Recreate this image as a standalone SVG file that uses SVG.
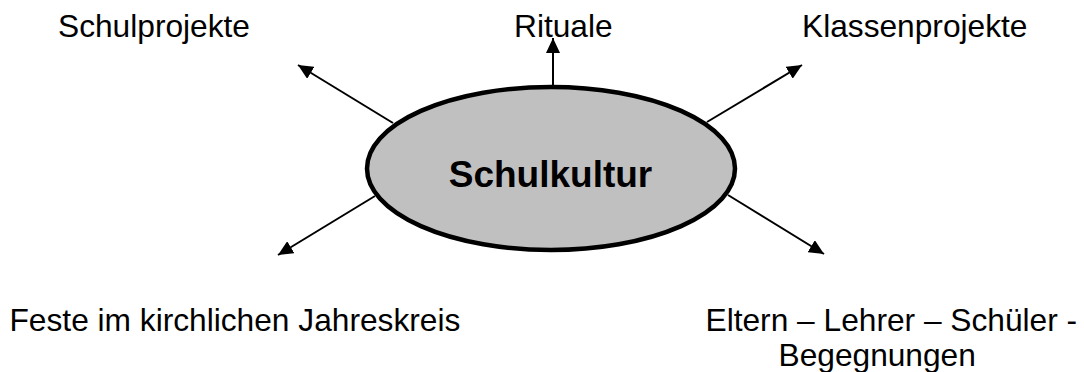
<svg xmlns="http://www.w3.org/2000/svg" width="1084" height="372" viewBox="0 0 1084 372">
<style>
.lbl{font-family:"Liberation Sans",Arial,sans-serif;font-size:31.7px;fill:#000}
.main{font-family:"Liberation Sans",Arial,sans-serif;font-size:37px;font-weight:bold;fill:#000}
.con{stroke:#000;stroke-width:2;fill:none;marker-end:url(#ah)}
</style>
<defs>
<marker id="ah" markerUnits="userSpaceOnUse" markerWidth="16" markerHeight="14" refX="15" refY="7" orient="auto">
<path d="M0,0 L15,7 L0,14 z" fill="#000"/>
</marker>
</defs>
<rect width="1084" height="372" fill="#fff"/>
<g id="connectors">
<line class="con" x1="553" y1="85" x2="553" y2="38"/>
<line class="con" x1="393" y1="123" x2="298" y2="65"/>
<line class="con" x1="707" y1="122" x2="802" y2="65"/>
<line class="con" x1="375" y1="196" x2="278" y2="255"/>
<line class="con" x1="728" y1="195" x2="824" y2="254"/>
</g>
<g id="schulkultur">
<ellipse cx="551" cy="168.5" rx="184" ry="81.5" fill="#c0c0c0" stroke="#000" stroke-width="4.5"/>
<text class="main" x="550.5" y="187" text-anchor="middle">Schulkultur</text>
</g>
<g id="schulprojekte"><text class="lbl" x="58" y="37">Schulprojekte</text></g>
<g id="rituale"><text class="lbl" x="514" y="37">Rituale</text></g>
<g id="klassenprojekte"><text class="lbl" x="802" y="37">Klassenprojekte</text></g>
<g id="feste"><text class="lbl" x="9.5" y="331">Feste im kirchlichen Jahreskreis</text></g>
<g id="begegnungen"><text class="lbl" x="705.5" y="331">Eltern – Lehrer – Schüler -</text><text class="lbl" x="778.5" y="366">Begegnungen</text></g>
</svg>
